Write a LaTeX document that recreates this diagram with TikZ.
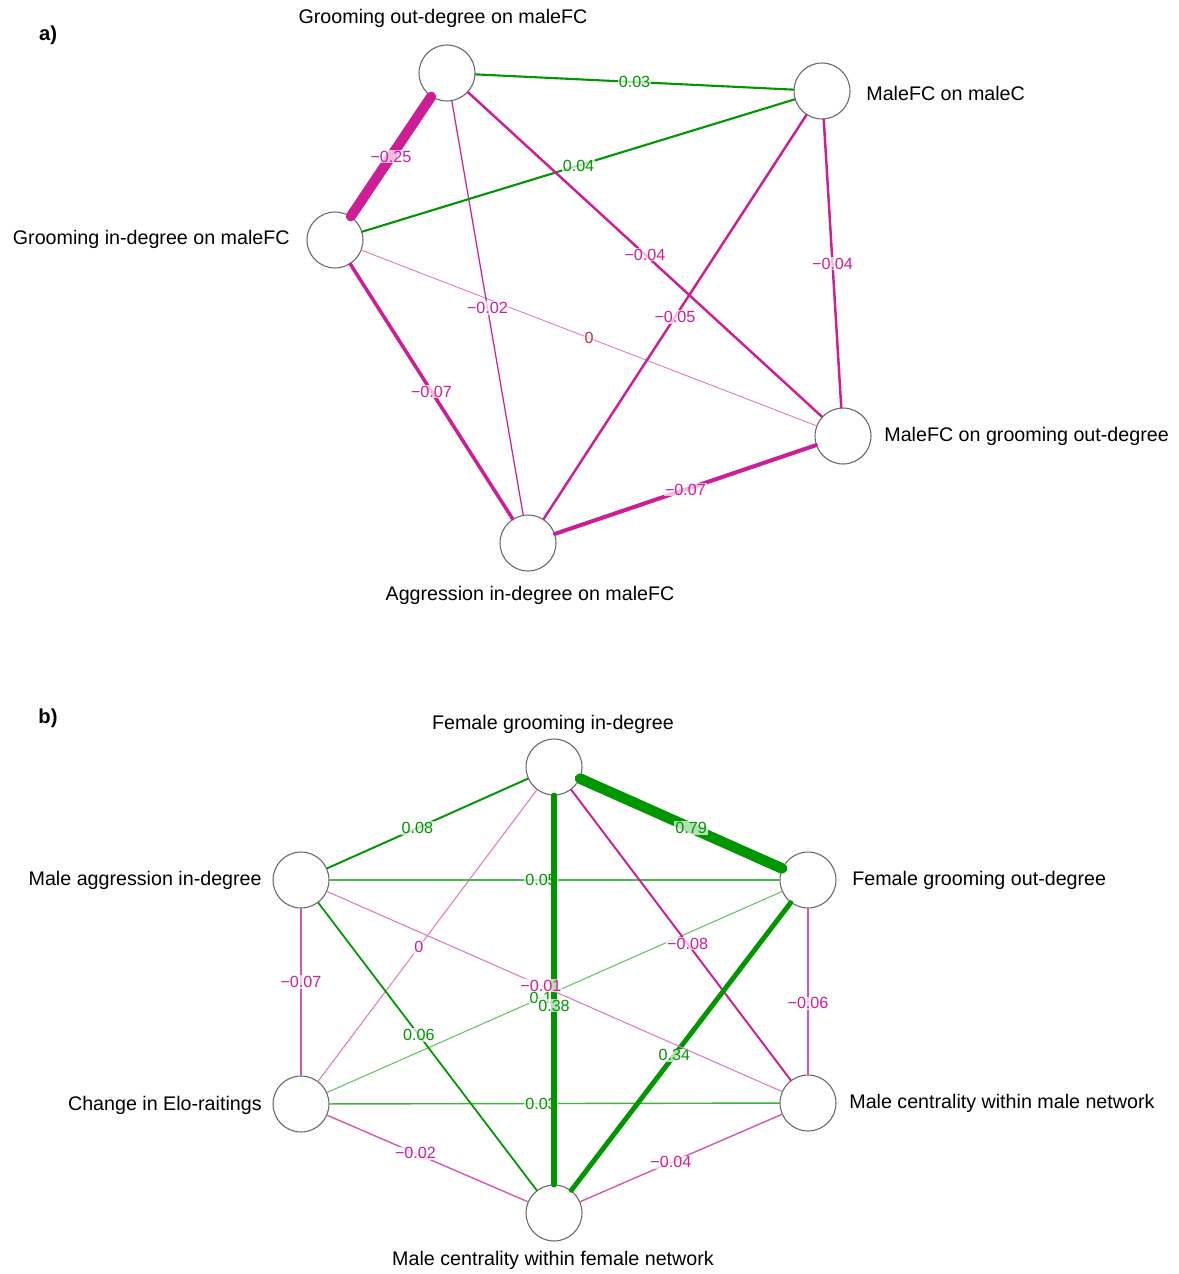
\documentclass[tikz,border=0pt]{standalone}
\usepackage{fontspec}
\setmainfont{Liberation Sans}
\definecolor{posgreen}{RGB}{0,150,0}
\definecolor{negpink}{RGB}{205,30,150}
\definecolor{zerored}{RGB}{205,45,45}

\begin{document}
\begin{tikzpicture}[x=0.02cm, y=-0.02cm,
  every node/.style={font=\fontsize{11.2}{13}\selectfont},
  var/.style={circle, draw=black!60, line width=0.6pt, fill=white, minimum size=1.12cm, inner sep=0pt},
  posedge/.style={draw=posgreen, line cap=round},
  negedge/.style={draw=negpink, line cap=round},
  elab/.style={font=\fontsize{9.2}{10}\selectfont, fill=white, fill opacity=0.7, text opacity=1, inner sep=0.5pt},
  tag/.style={font=\bfseries\fontsize{11.5}{13}\selectfont}]
  \useasboundingbox (0,0) rectangle (1178,1274);

  % a) fixed-effect estimates
  \node[tag] (taga) at (48,35) {a)};
  \node[var] (go) at (447,73) {};
  \node[var] (mc) at (822,91) {};
  \node[var] (gi) at (335,240) {};
  \node[var] (mg) at (843,436) {};
  \node[var] (ai) at (528,543) {};

  \node (golab) at (443,18) {Grooming out-degree on maleFC};
  \node[anchor=west, inner sep=0pt] (mclab) at (866,93) {MaleFC on maleC};
  \node[anchor=east, inner sep=0pt] (gilab) at (290,239) {Grooming in-degree on maleFC};
  \node[anchor=west, inner sep=0pt] (mglab) at (884,436) {MaleFC on grooming out-degree};
  \node (ailab) at (530,595) {Aggression in-degree on maleFC};

  \draw[draw=negpink!60, line width=0.5pt, line cap=round] (gi) -- node[elab, text=zerored] {0} (mg);
  \draw[negedge, line width=0.7pt] (go) -- node[elab, text=negpink] {−0.02} (ai);
  \draw[posedge, line width=1.2pt] (go) -- node[elab, text=posgreen] {0.03} (mc);
  \draw[posedge, line width=1.2pt] (gi) -- node[elab, text=posgreen] {0.04} (mc);
  \draw[negedge, line width=1.4pt] (go) -- node[elab, text=negpink] {−0.04} (mg);
  \draw[negedge, line width=1.4pt] (mc) -- node[elab, text=negpink] {−0.04} (mg);
  \draw[negedge, line width=1.4pt] (mc) -- node[elab, text=negpink] {−0.05} (ai);
  \draw[negedge, line width=2pt] (gi) -- node[elab, text=negpink] {−0.07} (ai);
  \draw[negedge, line width=2.3pt] (ai) -- node[elab, text=negpink] {−0.07} (mg);
  \draw[negedge, line width=5.8pt] (go) -- node[elab, text=negpink] {−0.25} (gi);

  % b) correlations
  \node[tag] (tagb) at (48,718) {b)};
  \node[var] (fgi) at (554,767) {};
  \node[var] (fgo) at (808,880) {};
  \node[var] (mai) at (301,880) {};
  \node[var] (mcm) at (808,1103) {};
  \node[var] (ce) at (301,1104) {};
  \node[var] (mcf) at (554,1213) {};

  \node (fgilab) at (553,724) {Female grooming in-degree};
  \node[anchor=west, inner sep=0pt] (fgolab) at (852,880) {Female grooming out-degree};
  \node[anchor=east, inner sep=0pt] (mailab) at (262,880) {Male aggression in-degree};
  \node[anchor=west, inner sep=0pt] (mcmlab) at (849,1103) {Male centrality within male network};
  \node[anchor=east, inner sep=0pt] (celab) at (262,1105) {Change in Elo-raitings};
  \node (mcflab) at (553,1260) {Male centrality within female network};

  \draw[draw=negpink!60, line width=0.6pt, line cap=round] (fgi) -- node[elab, pos=0.54, text=negpink] {0} (ce);
  \draw[draw=posgreen!60, line width=0.6pt, line cap=round] (fgo) -- node[elab, pos=0.53, text=posgreen] {0.1} (ce);
  \draw[draw=posgreen!70, line width=0.7pt, line cap=round] (fgo) -- node[elab, pos=0.53, text=posgreen] {0.05} (mai);
  \draw[draw=negpink!75, line width=0.8pt, line cap=round] (ce) -- node[elab, pos=0.56, text=negpink] {−0.07} (mai);
  \draw[draw=negpink!75, line width=0.8pt, line cap=round] (fgo) -- node[elab, pos=0.57, text=negpink] {−0.06} (mcm);
  \draw[draw=posgreen!75, line width=0.8pt, line cap=round] (mcm) -- node[elab, pos=0.53, text=posgreen] {0.03} (ce);
  \draw[draw=negpink!75, line width=0.8pt, line cap=round] (mcf) -- node[elab, pos=0.56, text=negpink] {−0.02} (ce);
  \draw[draw=negpink!75, line width=0.8pt, line cap=round] (mcm) -- node[elab, pos=0.55, text=negpink] {−0.04} (mcf);
  \draw[posedge, line width=1pt] (mcf) -- node[elab, pos=0.54, text=posgreen] {0.06} (mai);
  \draw[posedge, line width=1.1pt] (fgi) -- node[elab, pos=0.55, text=posgreen] {0.08} (mai);
  \draw[negedge, line width=1.1pt] (fgi) -- node[elab, pos=0.53, text=negpink] {−0.08} (mcm);
  \draw[posedge, line width=2.8pt] (fgo) -- node[elab, pos=0.53, text=posgreen] {0.34} (mcf);
  \draw[posedge, line width=3.4pt] (fgi) -- node[elab, pos=0.54, text=posgreen] {0.38} (mcf);
  \draw[draw=negpink!60, line width=0.6pt, line cap=round] (mcm) -- node[elab, pos=0.53, text=negpink] {−0.01} (mai);
  \draw[posedge, line width=6pt] (fgi) -- node[elab, pos=0.55, text=posgreen] {0.79} (fgo);
\end{tikzpicture}
\end{document}
